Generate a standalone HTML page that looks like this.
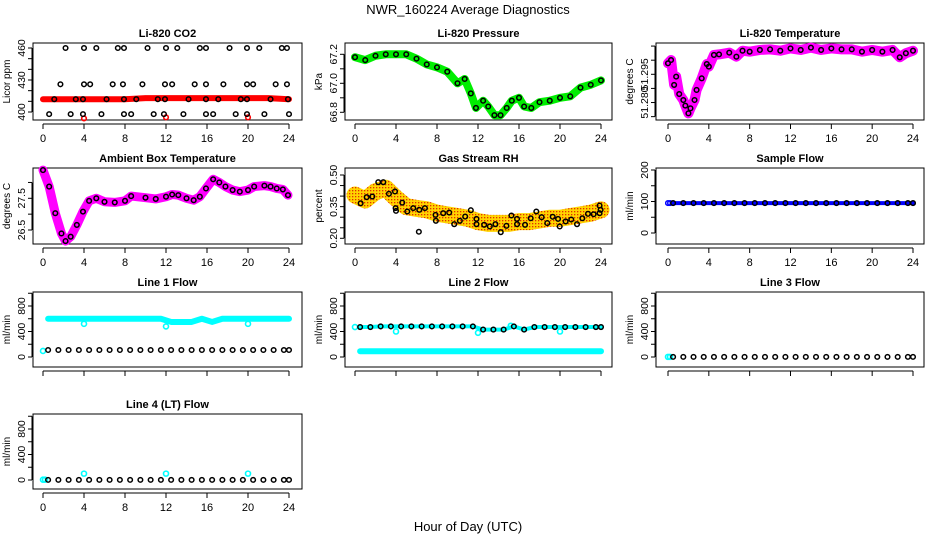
<!DOCTYPE html>
<html><head><meta charset="utf-8">
<style>
body{margin:0;background:#fff;}
svg{display:block;font-family:"Liberation Sans",Arial,sans-serif;}
</style></head>
<body>
<svg id="chart" width="936" height="540" viewBox="0 0 936 540">
<defs>
<pattern id="rhpat" width="3" height="3" patternUnits="userSpaceOnUse">
<rect width="3" height="3" fill="#ffd400"/><rect x="1" y="1" width="1.3" height="1.3" fill="#e03000"/>
</pattern>
</defs>
<text x="468" y="14" text-anchor="middle" font-size="13">NWR_160224  Average Diagnostics</text>
<text x="468" y="531" text-anchor="middle" font-size="13">Hour of Day (UTC)</text>
</svg>
<script>
// ---------- data ----------
const xTicks=[0,4,8,12,16,20,24];
const co2PtHours=[2.2,4.0,5.2,7.3,7.9,10.2,12.0,13.1,15.3,15.9,18.2,19.9,21.1,23.3,23.8,
1.7,4.0,4.6,6.8,7.8,9.7,11.9,12.6,14.8,15.9,17.6,19.9,20.5,22.7,23.8,
1.1,3.2,3.9,6.2,7.9,9.1,11.2,11.9,14.2,15.9,17.1,19.3,19.9,22.2,23.9,
0.6,2.7,3.9,5.7,7.9,8.6,10.8,11.8,13.7,15.9,16.6,18.8,19.9,21.6,24.0];
const co2PtVals=[460,460,460,460,460,460,460,460,460,460,460,460,460,460,460,
426,426,426,426,426,426,426,426,426,426,426,426,426,426,426,
412,412,412,412,412,412,412,412,412,412,412,412,412,412,412,
398,398,398,398,398,398,398,398,398,398,398,398,398,398,398];
const co2RedHours=[0,2,4,6,8,10,12,14,16,18,20,22,24];
const co2RedVals=[412,412,412,412,412,413,413,413,413,413,413,413,412];
const co2OutHours=[4,12,20];
const co2OutVals=[394,395,395];
const presHours=[0,1,2,3,4,5,6,7,8,9,10,10.7,11.3,11.8,12.5,13,13.6,14.2,14.8,15.3,16,16.5,17.2,18,19,20,21,22,23,24];
const presVals=[67.18,67.16,67.19,67.2,67.2,67.2,67.17,67.13,67.11,67.08,67.0,67.03,66.93,66.83,66.88,66.84,66.78,66.78,66.83,66.88,66.9,66.84,66.83,66.87,66.88,66.9,66.91,66.97,66.99,67.02];
const tempHours=[0,0.3,0.6,0.8,1.1,1.5,1.7,2.0,2.2,2.6,2.8,3.3,3.8,4.0,4.5,5,6,6.7,7.3,8,9,10,11,12,13,14,15,16,17,18,19,20,21,22,22.7,23.3,24];
const tempVals=[51.3007,51.3024,51.2895,51.2938,51.2848,51.2817,51.2788,51.2748,51.2774,51.2817,51.2869,51.2929,51.3003,51.2990,51.3050,51.3053,51.3062,51.3041,51.3072,51.3067,51.3076,51.3079,51.3072,51.3084,51.3076,51.3088,51.3076,51.3084,51.3079,51.3079,51.3067,51.3076,51.3067,51.3076,51.3038,51.3059,51.3072];
const ambHours=[0,0.6,1.2,1.8,2.2,2.7,3.3,3.9,4.5,5.2,6,7,8,8.6,10,11,12,12.6,13.2,14,14.7,15.3,15.9,16.6,17.2,17.8,18.5,19.2,20,20.6,21.6,22.2,22.8,23.4,23.9];
const ambVals=[28.39,27.87,27.03,26.39,26.15,26.29,26.66,27.08,27.42,27.5,27.39,27.37,27.42,27.57,27.52,27.48,27.55,27.62,27.6,27.5,27.44,27.55,27.81,28.1,28.0,27.87,27.76,27.71,27.76,27.87,27.9,27.87,27.81,27.78,27.6];
const rhBandHours=[0,1,2,3,4,5,6,7,8,9,10,11,12,13,14,15,16,17,18,19,20,21,22,23,24];
const rhBandVals=[0.405,0.382,0.421,0.437,0.390,0.350,0.342,0.335,0.319,0.311,0.303,0.295,0.279,0.271,0.271,0.271,0.279,0.279,0.287,0.295,0.295,0.303,0.311,0.319,0.335];
const rhPtHours=[0.55,1.14,1.69,2.27,2.76,3.31,3.9,3.96,4.0,4.61,5.1,5.68,6.27,6.82,7.86,7.89,8.6,9.19,9.68,10.23,10.75,11.3,11.85,11.85,12.6,13.15,13.7,14.22,14.77,15.26,15.81,15.81,16.59,17.14,17.69,18.21,18.76,19.29,19.81,19.97,20.55,21.1,21.66,22.18,22.73,23.28,23.86,23.86,23.96,6.23];
const rhPtVals=[0.366,0.395,0.398,0.466,0.466,0.411,0.422,0.343,0.330,0.369,0.327,0.343,0.335,0.343,0.311,0.283,0.319,0.322,0.267,0.283,0.303,0.333,0.292,0.267,0.264,0.256,0.267,0.229,0.259,0.308,0.292,0.267,0.264,0.295,0.327,0.300,0.272,0.302,0.292,0.256,0.280,0.289,0.267,0.295,0.316,0.314,0.355,0.319,0.335,0.231];
const flowHours=[0.5,1.5,2.5,3.5,4.5,5.5,6.5,7.5,8.5,9.5,10.5,11.5,12.5,13.5,14.5,15.5,16.5,17.5,18.5,19.5,20.5,21.5,22.5,23.5,24];
const sampleBlue=[95,95,95,95,95,95,95,95,95,95,95,95,95,95,95,95,95,95,95,95,95,95,95,95,95];
const sampleBlack=[95,95,95,95,95,95,95,95,95,95,95,95,95,95,95,95,95,95,95,95,95,95,95,95,95];
const l1Cyan=[600,600,600,600,600,600,600,600,600,600,600,600,550,550,550,600,550,600,600,600,600,600,600,600,600];
const l1Black=[110,110,110,110,110,110,110,110,110,110,110,110,110,110,110,110,110,110,110,110,110,110,110,110,110];
const l1OutHours=[0,4,12,20];
const l1OutVals=[95,520,480,520];
const l2Cyan=[90,90,90,90,90,90,90,90,90,90,90,90,90,90,90,90,90,90,90,90,90,90,90,90,90];
const l2Black=[470,470,480,480,480,480,480,480,480,480,480,480,430,430,430,480,430,470,470,470,470,470,470,470,470];
const l2OutHours=[0,4,12,20,15.2];
const l2OutVals=[470,400,380,400,490];
const l3Black=[2,2,2,2,2,2,2,2,2,2,2,2,2,2,2,2,2,2,2,2,2,2,2,2,2];
const l3OutHours=[0,0.2];
const l3OutVals=[2,2];
const l4Black=[2,2,2,2,2,2,2,2,2,2,2,2,2,2,2,2,2,2,2,2,2,2,2,2,2];
const l4OutHours=[0,0.2,4,12,20];
const l4OutVals=[5,5,100,100,100];

// ---------- layout ----------
const NS='http://www.w3.org/2000/svg';
const svg=document.getElementById('chart');
const cols=[{l:33,r:302,x0:43,x24:289},{l:345,r:612,x0:355,x24:601},{l:656,r:924,x0:668,x24:913}];
const rows=[{t:43,b:120},{t:168,b:244},{t:292,b:367},{t:414,b:489}];
function mk(tag,attrs,parent){const e=document.createElementNS(NS,tag);for(const k in attrs)e.setAttribute(k,attrs[k]);(parent||svg).appendChild(e);return e;}

function panel(ci,ri,title,ylab,vLo,pLo,vHi,pHi,tickVals,labVals,labTexts,showXLabels,slug){
  const c=cols[ci],r=rows[ri];
  const g=mk('g',{});
  
  
  const xs=h=>c.x0+(c.x24-c.x0)*h/24;
  const ys=v=>pLo+(v-vLo)*(pHi-pLo)/(vHi-vLo);
  const box=mk('rect',{x:c.l,y:r.t,width:c.r-c.l,height:r.b-r.t,fill:'none',stroke:'#000','stroke-width':1},g);
  
  
  const tt=mk('text',{x:(c.l+c.r)/2,y:r.t-6,'text-anchor':'middle','font-size':11,'font-weight':'bold'},g);
  tt.textContent=title;
  
  
  const yl=mk('text',{x:0,y:0,'text-anchor':'middle','font-size':10,transform:`translate(${c.l-23},${(r.t+r.b)/2}) rotate(-90)`},g);
  yl.textContent=ylab;
  
  
  // x axis
  mk('line',{x1:xs(0),x2:xs(24),y1:r.b+4,y2:r.b+4,stroke:'#000'},g);
  xTicks.forEach(h=>{
    mk('line',{x1:xs(h),x2:xs(h),y1:r.b+4,y2:r.b+9,stroke:'#000'},g);
    if(showXLabels){const t=mk('text',{x:xs(h),y:r.b+22,'text-anchor':'middle','font-size':11},g);t.textContent=h;
      
      }
  });
  // y axis
  mk('line',{x1:c.l-1,x2:c.l-1,y1:ys(tickVals[0]),y2:ys(tickVals[tickVals.length-1]),stroke:'#000'},g);
  tickVals.forEach(v=>mk('line',{x1:c.l-5,x2:c.l-1,y1:ys(v),y2:ys(v),stroke:'#000'},g));
  labVals.forEach((v,i)=>{const t=mk('text',{x:0,y:0,'text-anchor':'middle','font-size':10.5,transform:`translate(${c.l-8},${ys(v)}) rotate(-90)`},g);t.textContent=labTexts[i];
    
    });
  return {g,xs,ys};
}
function band(p,hours,vals,color,w,slug){
  const pts=hours.map((h,i)=>p.xs(h)+','+p.ys(vals[i])).join(' ');
  const l=mk('polyline',{points:pts,fill:'none',stroke:color,'stroke-width':w,'stroke-linejoin':'round','stroke-linecap':'round'},p.g);
  
  
}
function pts(p,hours,vals,color,rad,sw,slug){
  hours.forEach((h,i)=>{const c=mk('circle',{cx:p.xs(h),cy:p.ys(vals[i]),r:rad,fill:'none',stroke:color,'stroke-width':sw},p.g);
    
    });
}

// CO2
let p=panel(0,0,'Li-820 CO2','Licor ppm',400,112,460,48,[400,410,420,430,440,450,460],[400,430,460],['400','430','460'],true,'co2');
band(p,co2RedHours,co2RedVals,'#ff0000',6,'co2-red-series');
pts(p,co2OutHours,co2OutVals,'#ff0000',2.3,1.6,'co2-red-point');
pts(p,co2PtHours,co2PtVals,'#000',2.3,1.5,'co2-point');
// Pressure
p=panel(1,0,'Li-820 Pressure','kPa',66.8,112.3,67.2,54.3,[66.8,66.9,67.0,67.1,67.2],[66.8,67.0,67.2],['66.8','67.0','67.2'],true,'pressure');
band(p,presHours,presVals,'#00ee00',8,'pressure-green-series');
pts(p,presHours,presVals,'#000',2.3,1.5,'pressure-point');
// Temperature
p=panel(2,0,'Li-820 Temperature','degrees C',51.280,103.3,51.295,74.3,[51.2731,51.2804,51.2877,51.295,51.3023,51.3096],[51.2804,51.295],['51.280','51.295'],true,'li820-temp');
band(p,tempHours,tempVals,'#ff00ff',10,'temp-magenta-series');
pts(p,tempHours,tempVals,'#000',2.3,1.5,'temp-point');
// Ambient
p=panel(0,1,'Ambient Box Temperature','degrees C',26.5,230,27.5,198.3,[26.5,27.0,27.5,28.0],[26.5,27.5],['26.5','27.5'],true,'ambient');
band(p,ambHours,ambVals,'#ff00ff',9,'ambient-magenta-series');
pts(p,ambHours,ambVals,'#000',2.3,1.5,'ambient-point');
// RH
p=panel(1,1,'Gas Stream RH','percent',0.20,238.3,0.50,175,[0.20,0.25,0.30,0.35,0.40,0.45,0.50],[0.20,0.35,0.50],['0.20','0.35','0.50'],true,'rh');
band(p,rhBandHours,rhBandVals,'url(#rhpat)',17,'rh-orange-series');
pts(p,rhPtHours,rhPtVals,'#000',2.3,1.5,'rh-point');
// Sample flow
p=panel(2,1,'Sample Flow','ml/min',0,233,200,170,[0,50,100,150,200],[0,100,200],['0','100','200'],true,'sample-flow');
band(p,flowHours,sampleBlue,'#0000ff',4,'sample-blue-series');
pts(p,[0,0.2],[95,95],'#0000ff',2.3,1.5,'sample-blue-point');
pts(p,flowHours,sampleBlack,'#000',2.3,1.5,'sample-point');
// Line 1
const fT=[0,200,400,600,800,1000];
p=panel(0,2,'Line 1 Flow','ml/min',0,357,800,306,fT,[0,400,800],['0','400','800'],false,'line1');
band(p,flowHours,l1Cyan,'#00ffff',6,'line1-cyan-series');
pts(p,l1OutHours,l1OutVals,'#00ffff',2.5,1.6,'line1-cyan-point');
pts(p,flowHours,l1Black,'#000',2.3,1.5,'line1-point');
// Line 2
p=panel(1,2,'Line 2 Flow','ml/min',0,357,800,306,fT,[0,400,800],['0','400','800'],false,'line2');
band(p,flowHours,l2Cyan,'#00ffff',6,'line2-cyan-series');
band(p,flowHours,l2Black,'#00ffff',4,'line2-cyan-upper');
pts(p,l2OutHours,l2OutVals,'#00ffff',2.5,1.6,'line2-cyan-point');
pts(p,flowHours,l2Black,'#000',2.3,1.5,'line2-point');
// Line 3
p=panel(2,2,'Line 3 Flow','ml/min',0,357,800,306,fT,[0,400,800],['0','400','800'],false,'line3');
pts(p,l3OutHours,l3OutVals,'#00ffff',2.5,1.6,'line3-cyan-point');
pts(p,flowHours,l3Black,'#000',2.3,1.5,'line3-point');
// Line 4
p=panel(0,3,'Line 4 (LT) Flow','ml/min',0,480,800,429,fT,[0,400,800],['0','400','800'],true,'line4');
pts(p,l4OutHours,l4OutVals,'#00ffff',2.5,1.6,'line4-cyan-point');
pts(p,flowHours,l4Black,'#000',2.3,1.5,'line4-point');
</script>
</body></html>
